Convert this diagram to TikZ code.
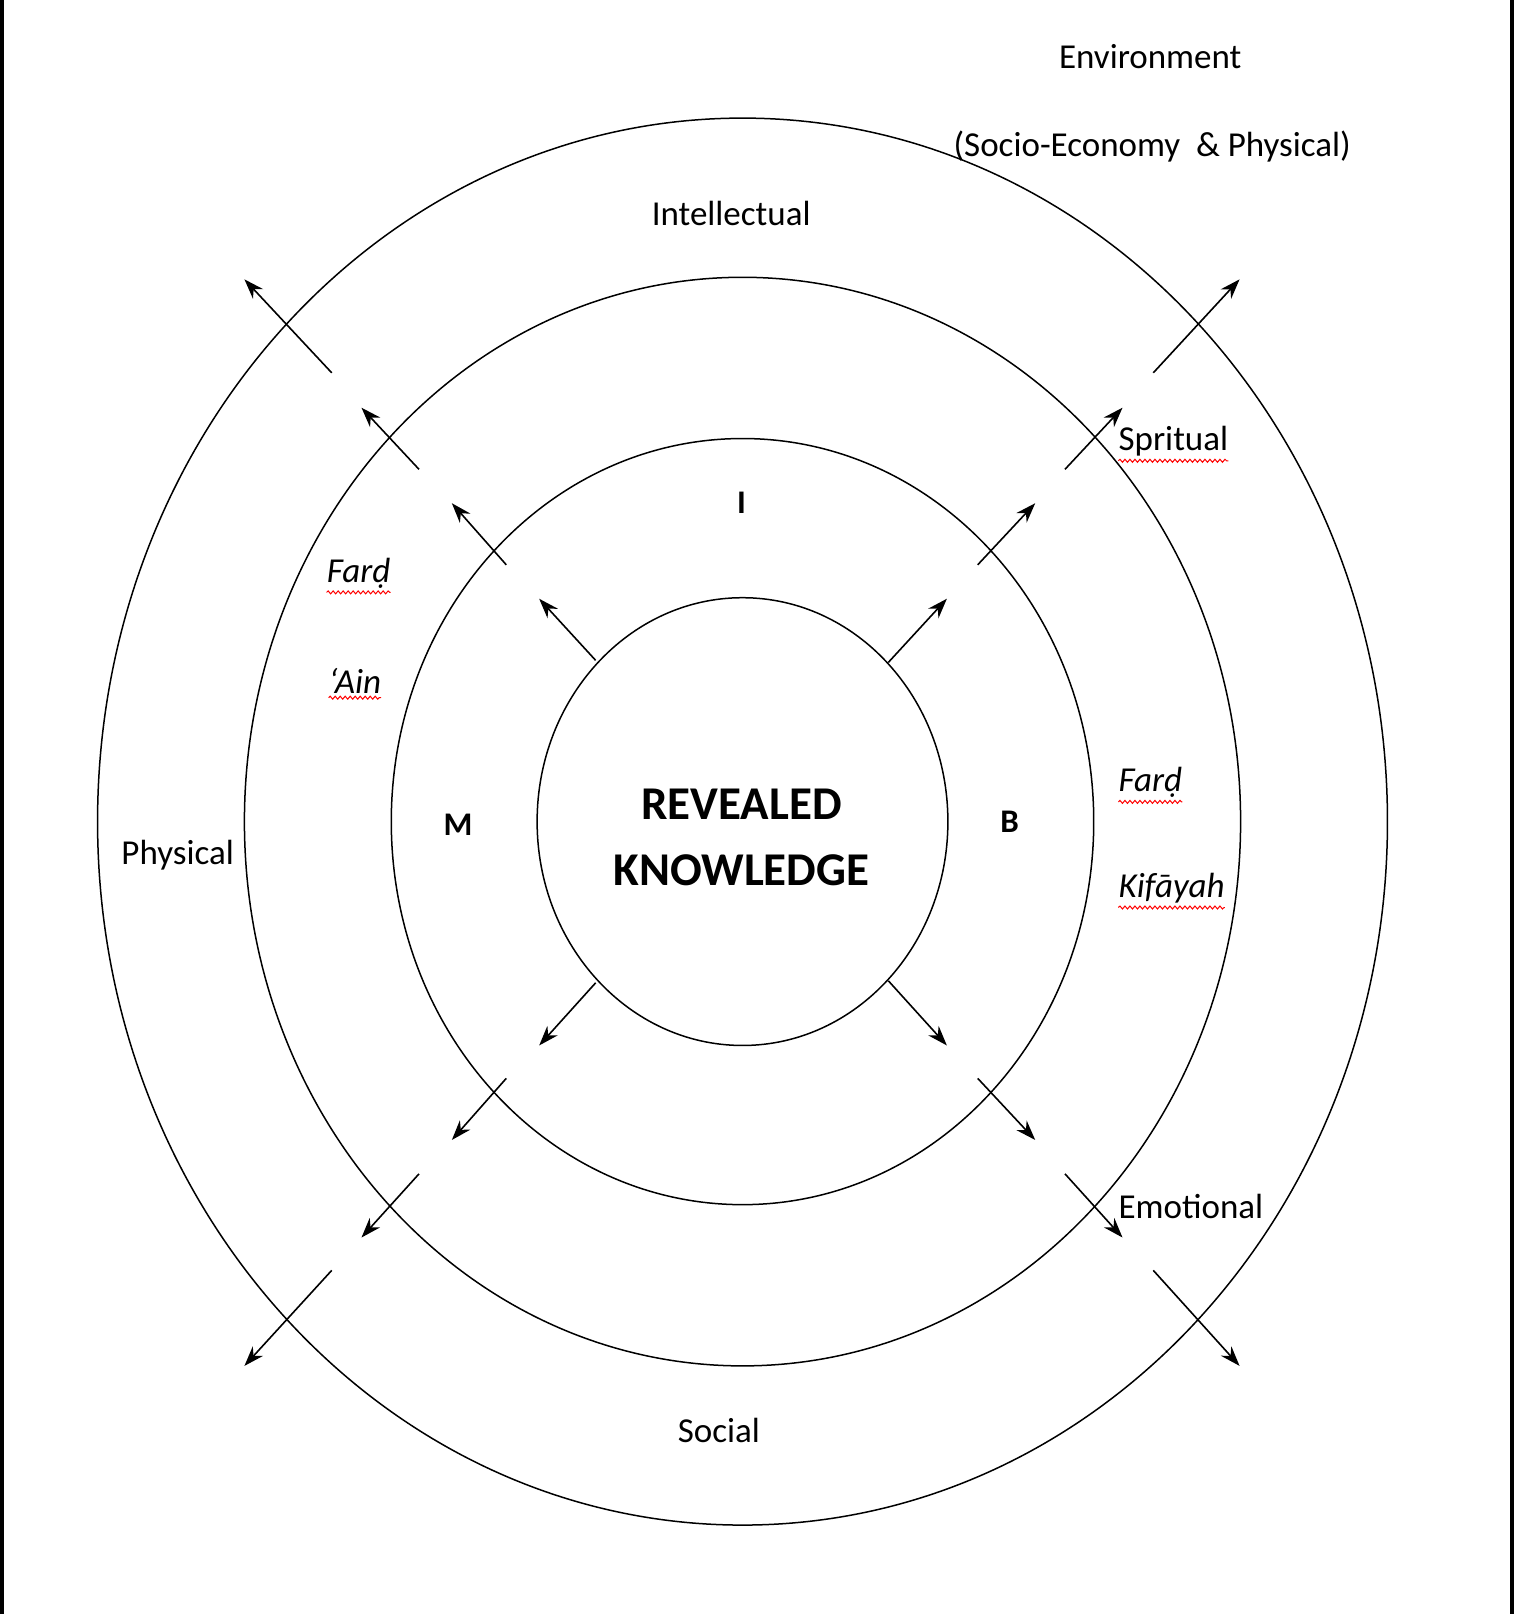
\documentclass[tikz,border=0pt]{standalone}
\usepackage{fontspec}
\setmainfont{Carlito}
\usetikzlibrary{arrows.meta,decorations.pathmorphing}
\begin{document}
\begin{tikzpicture}[x=1.027pt,y=-1.027pt,
  ring/.style={draw,line width=1.5pt},
  arr/.style={line width=1.6pt,-{Stealth[length=20pt,width=14pt]}},
  lbl/.style={font=\fontsize{35}{40}\selectfont,inner sep=0pt},
  bl/.style={font=\fontsize{33}{38}\selectfont\bfseries,inner sep=0pt},
  spell/.style={red,line width=1pt,decorate,decoration={snake,amplitude=1.5pt,segment length=5pt}}]
\useasboundingbox (0,0) rectangle (1474.2,1571.6);
\draw[line width=4pt] (2,0) -- (2,1571.6) (1472,0) -- (1472,1571.6);
\coordinate (c) at (723,800);
\draw[ring] (c) ellipse [x radius=200,y radius=218];
\draw[ring] (c) ellipse [x radius=342,y radius=373];
\draw[ring] (c) ellipse [x radius=485,y radius=530];
\draw[ring] (c) ellipse [x radius=628,y radius=685];
\foreach \a/\b/\cc/\d in {580/643/525/583, 865/645/922/583, 580/957/525/1018, 865/955/922/1018,
  493/550/440/490, 952/550/1008/490, 493/1050/440/1110, 952/1050/1008/1110,
  408/457/352/397, 1037/457/1093/397, 408/1143/352/1205, 1037/1143/1093/1205,
  323/363/238/272, 1123/363/1207/272, 323/1237/238/1330, 1123/1237/1207/1330}
  {\coordinate (s) at (\a,\b); \coordinate (e) at (\cc,\d); \draw[arr] (s) -- (e);}
\node[lbl] (env) at (1120,55) {Environment};
\node[lbl] (soc) at (1122,143) {(Socio-Economy \ \& Physical)};
\node[lbl] (int) at (712,208) {Intellectual};
\node[lbl,anchor=west] (spr) at (1089,430) {Spritual};
\draw[spell] ([yshift=-4pt]spr.south west) -- ([yshift=-4pt]spr.south east);
\node[bl] (i) at (722,490) {I};
\node[lbl,anchor=west] (f1) at (318,558) {\itshape Farḍ};
\draw[spell] ([yshift=-4pt]f1.south west) -- ([yshift=-4pt]f1.south east);
\node[lbl,anchor=west] (ain) at (320,663) {\itshape `Ain};
\draw[spell] ([yshift=-4pt]ain.south west) -- ([yshift=-4pt]ain.south east);
\node[bl] (m) at (446,803) {M};
\node[bl] (b) at (983,800) {B};
\node[font=\fontsize{47}{66}\selectfont\bfseries,align=center] (rk) at (722,815) {REVEALED\\KNOWLEDGE};
\node[lbl,anchor=west] (f2) at (1089,762) {\itshape Farḍ};
\draw[spell] ([yshift=-4pt]f2.south west) -- ([yshift=-4pt]f2.south east);
\node[lbl,anchor=west] (kif) at (1089,865) {\itshape Kifāyah};
\draw[spell] ([yshift=-4pt]kif.south west) -- ([yshift=-4pt]kif.south east);
\node[lbl] (phy) at (173,833) {Physical};
\node[lbl,anchor=west] (emo) at (1089,1175) {Emotional};
\node[lbl] (soci) at (700,1393) {Social};
\end{tikzpicture}
\end{document}
